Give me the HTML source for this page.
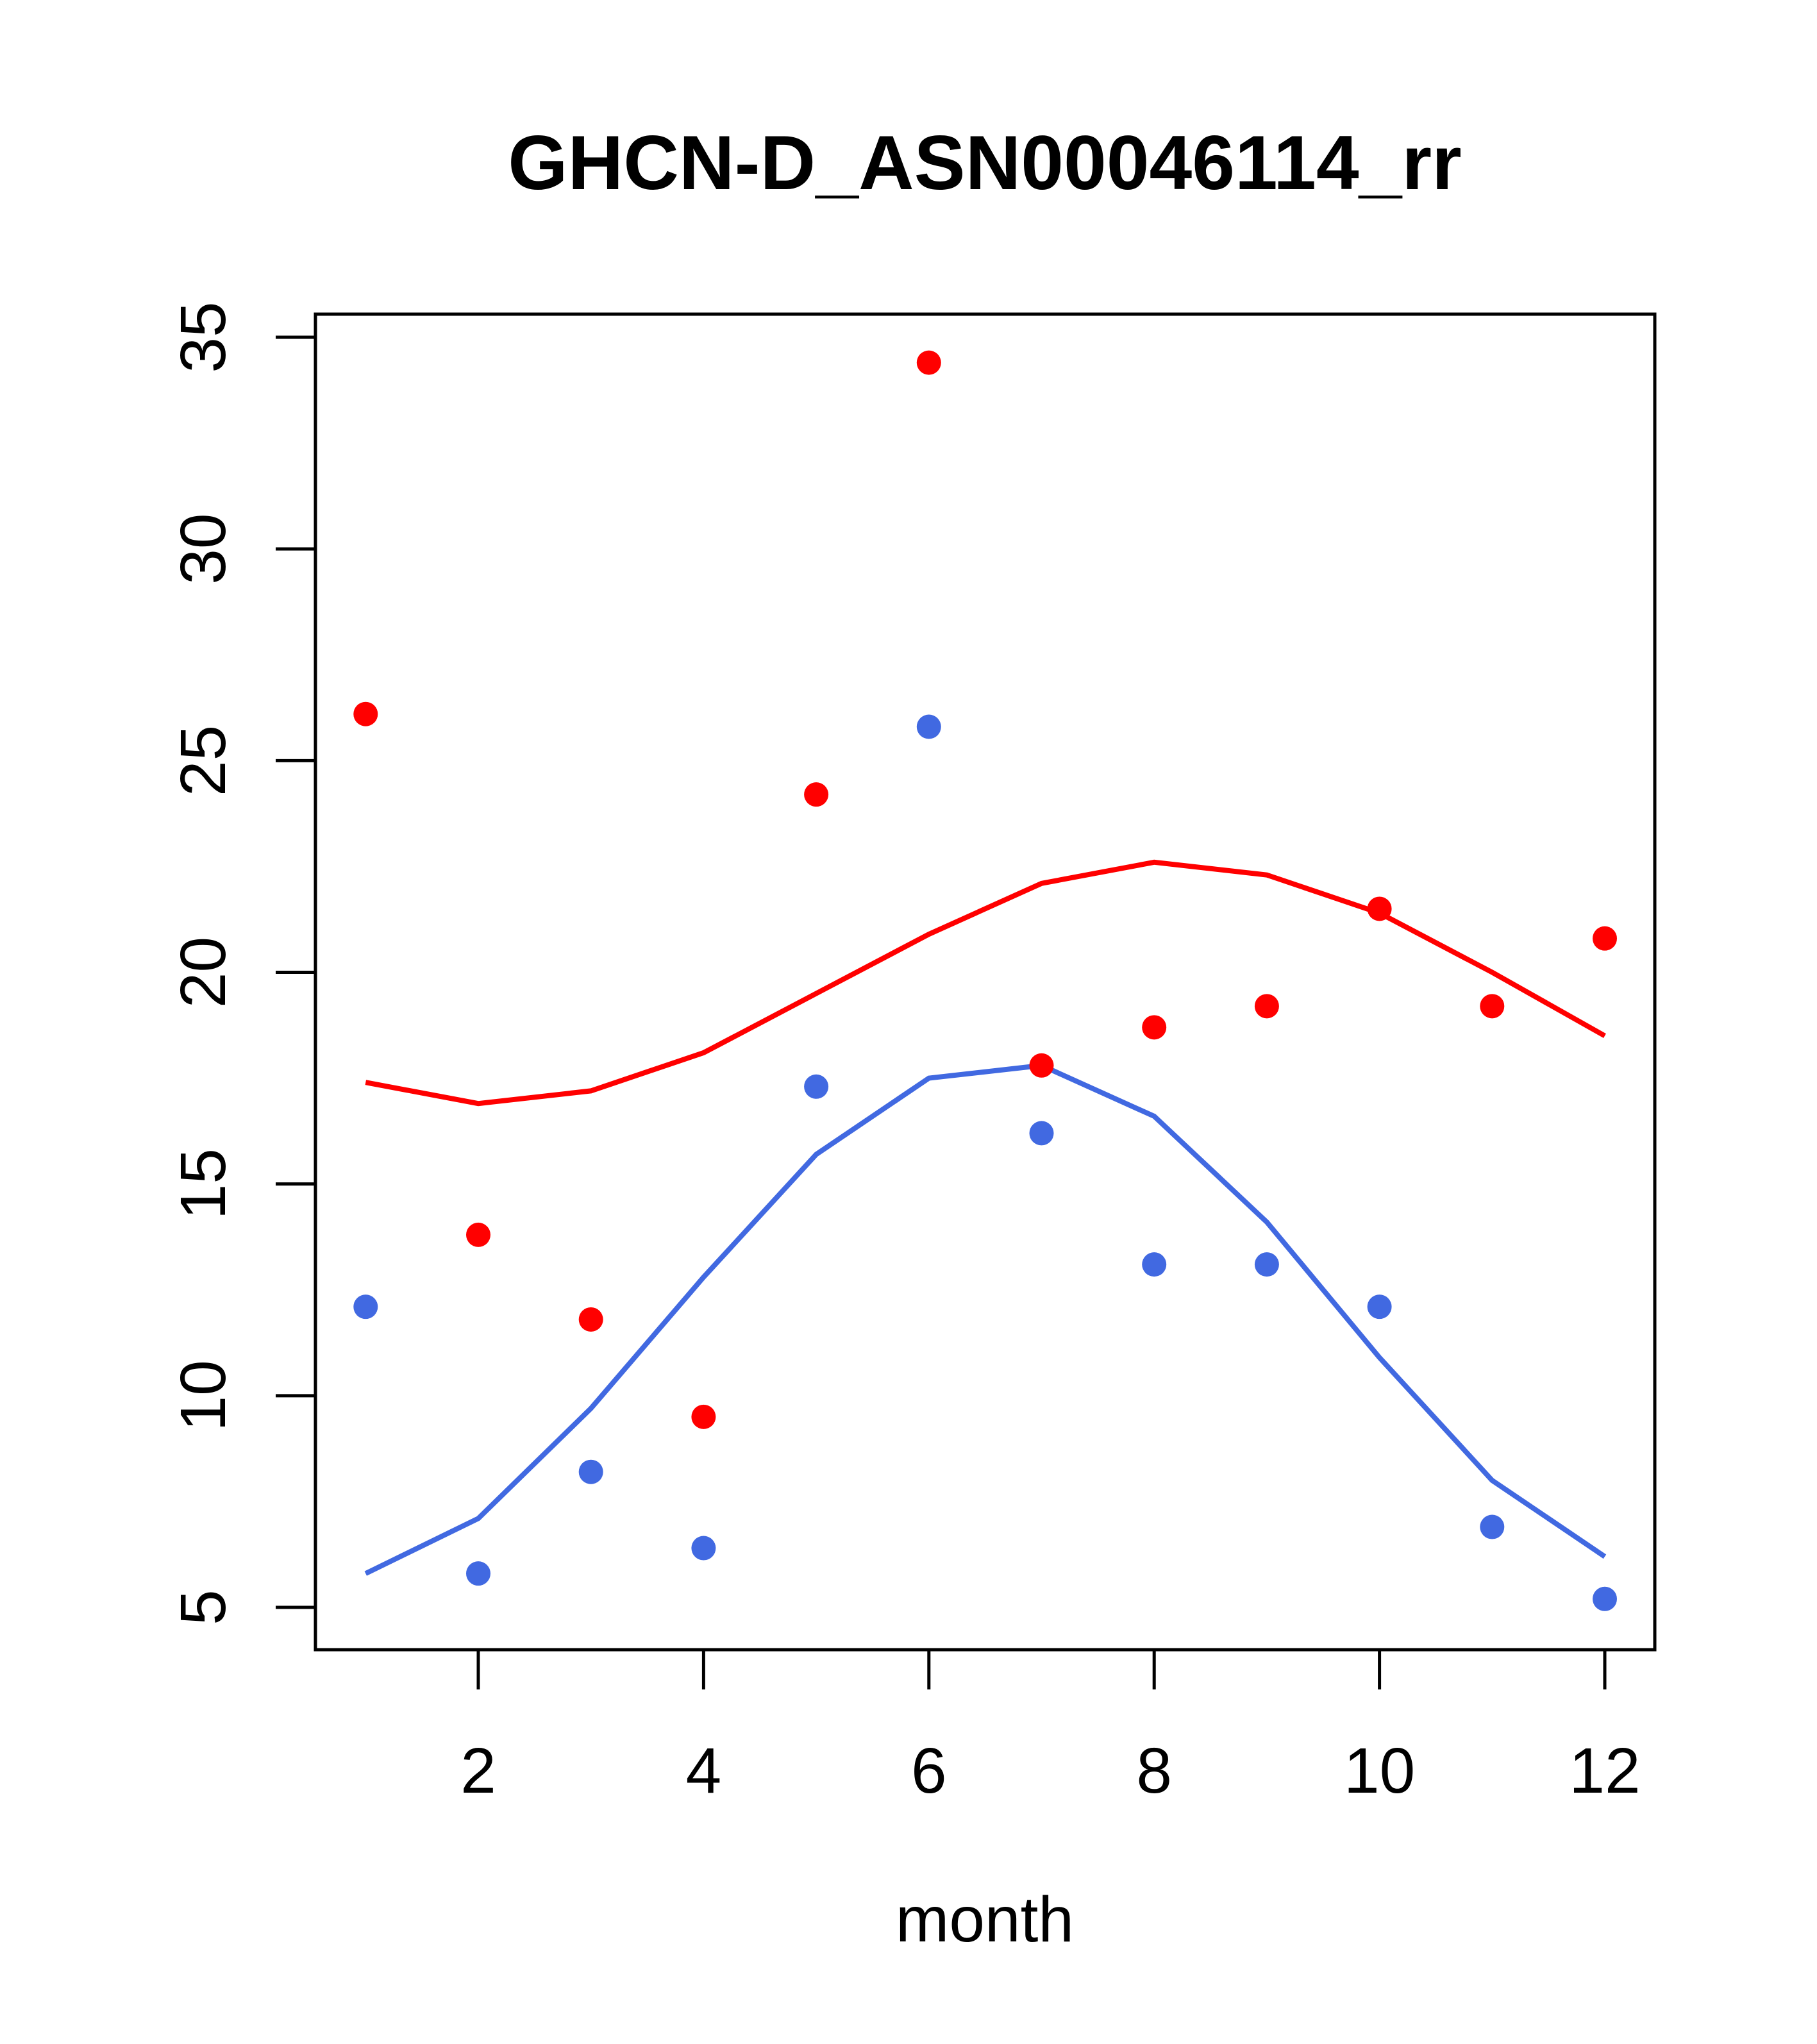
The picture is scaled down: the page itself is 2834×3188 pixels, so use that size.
<!DOCTYPE html>
<html><head><meta charset="utf-8"><style>
html,body{margin:0;padding:0;background:#fff;}
svg{display:block;font-family:"Liberation Sans",Arial,sans-serif;}
</style></head><body>
<svg id="chart" width="2834" height="3188" viewBox="0 0 2834 3188" xmlns="http://www.w3.org/2000/svg">
<rect width="2834" height="3188" fill="#fff"/>
<text x="1536" y="295" text-anchor="middle" font-size="120" font-weight="bold">GHCN-D_ASN00046114_rr</text>
<rect x="492" y="490" width="2089" height="2083" fill="none" stroke="#000" stroke-width="5"/>
<text x="1536" y="3028" text-anchor="middle" font-size="100">month</text>
<g id="axes"></g>
<g id="marks"></g>
</svg>
<script>
const months = [1,2,3,4,5,6,7,8,9,10,11,12];
const redPoints = [26.1,13.8,11.8,9.5,24.2,34.4,17.8,18.7,19.2,21.5,19.2,20.8];
const bluePoints = [12.1,5.8,8.2,6.4,17.3,25.8,16.2,13.1,13.1,12.1,6.9,5.2];
const redLine = [17.4,16.9,17.2,18.1,19.5,20.9,22.1,22.6,22.3,21.4,20.0,18.5];
const blueLine = [5.8,7.1,9.7,12.8,15.7,17.5,17.8,16.6,14.1,10.9,8.0,6.2];
const xTicks = [2,4,6,8,10,12];
const yTicks = [5,10,15,20,25,30,35];

const NS = "http://www.w3.org/2000/svg";
function xs(m){ return 746 + (m-2)*(2503-746)/10; }
function ys(v){ return 2507 - (v-5)*(2507-526)/30; }
const axes = document.getElementById('axes');
const marks = document.getElementById('marks');
function mk(tag, attrs, parent){
  const e = document.createElementNS(NS, tag);
  for (const k in attrs) e.setAttribute(k, attrs[k]);
  parent.appendChild(e); return e;
}
let xl = mk('line',{x1:xs(2),x2:xs(12),y1:2573,y2:2573,stroke:'#000','stroke-width':5},axes);


xTicks.forEach(t=>{
  const tk = mk('line',{x1:xs(t),x2:xs(t),y1:2573,y2:2635,stroke:'#000','stroke-width':5},axes);
  
  
  const tx = mk('text',{x:xs(t),y:2796,'text-anchor':'middle','font-size':100},axes);
  tx.textContent = t;
  
  
});
let yl = mk('line',{x1:492,x2:492,y1:ys(5),y2:ys(35),stroke:'#000','stroke-width':5},axes);


yTicks.forEach(t=>{
  const tk = mk('line',{x1:430,x2:492,y1:ys(t),y2:ys(t),stroke:'#000','stroke-width':5},axes);
  
  
  const tx = mk('text',{x:351,y:ys(t),'text-anchor':'middle','font-size':100,transform:`rotate(-90 351 ${ys(t)})`},axes);
  tx.textContent = t;
  
  
});
function line(vals, color, name){
  const p = mk('polyline',{points:vals.map((v,i)=>xs(months[i])+','+ys(v)).join(' '),fill:'none',stroke:color,'stroke-width':8},marks);
  
  
}
function pts(vals, color, name){
  vals.forEach((v,i)=>{
    const c = mk('circle',{cx:xs(months[i]),cy:ys(v),r:19,fill:color},marks);
    
    
  });
}
line(redLine,'#ff0000','red-line');
line(blueLine,'#4169e1','blue-line');
pts(redPoints,'#ff0000','red-point');
pts(bluePoints,'#4169e1','blue-point');
</script>
</body></html>
